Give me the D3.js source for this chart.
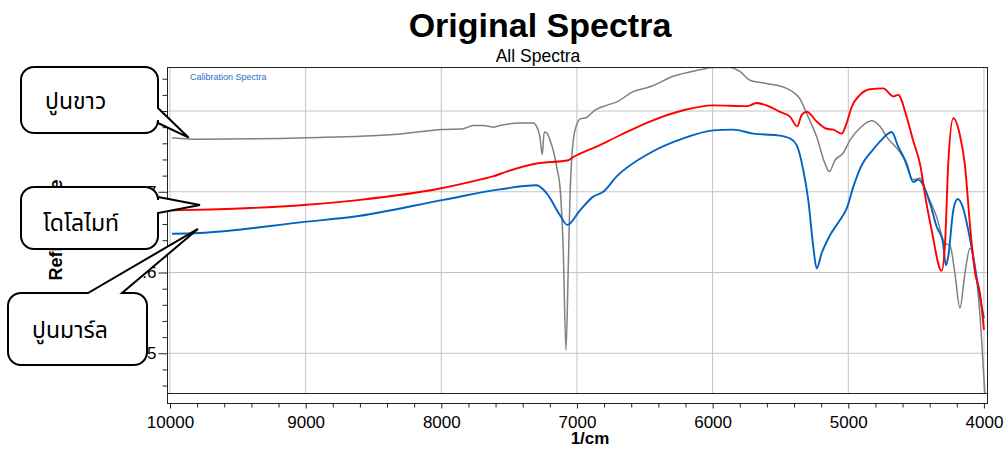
<!DOCTYPE html>
<html>
<head>
<meta charset="utf-8">
<script src="https://cdn.jsdelivr.net/npm/d3@7"></script>
<style>
  html, body { margin: 0; padding: 0; background: #ffffff; }
  svg { display: block; font-family: "Liberation Sans", Arial, sans-serif; }
</style>
</head>
<body>
<script>
// ---------------- DATA ----------------
const seriesNames = ["ปูนขาว", "โดโลไมท์", "ปูนมาร์ล"];
const seriesColors = ["#808080", "#ff0000", "#0062c4"];

// ปูนขาว (gray)
const limeWn = [9985, 9779, 8992, 8356, 7988, 7840, 7767, 7693, 7619, 7568, 7420, 7324, 7295, 7273, 7256, 7241, 7223, 7199, 7170, 7145, 7125, 7101, 7081, 7064, 7052, 7027, 7002, 6978, 6929, 6867, 6781, 6698, 6587, 6462, 6290, 6093, 5997, 5872, 5799, 5725, 5602, 5454, 5381, 5356, 5307, 5233, 5172, 5140, 5098, 5037, 4987, 4914, 4828, 4767, 4717, 4595, 4521, 4472, 4422, 4349, 4287, 4251, 4214, 4177, 4140, 4103, 4066, 4030, 4005, 3993];
const limeRefl = [0.767, 0.765, 0.767, 0.771, 0.777, 0.778, 0.782, 0.782, 0.780, 0.782, 0.785, 0.785, 0.780, 0.768, 0.746, 0.774, 0.773, 0.764, 0.748, 0.727, 0.706, 0.628, 0.504, 0.607, 0.690, 0.764, 0.783, 0.790, 0.792, 0.801, 0.807, 0.812, 0.824, 0.830, 0.843, 0.851, 0.854, 0.854, 0.849, 0.838, 0.834, 0.828, 0.820, 0.815, 0.797, 0.768, 0.735, 0.725, 0.739, 0.748, 0.764, 0.779, 0.788, 0.781, 0.768, 0.743, 0.715, 0.717, 0.698, 0.669, 0.636, 0.634, 0.599, 0.556, 0.599, 0.630, 0.607, 0.549, 0.483, 0.450];

// โดโลไมท์ (red)
const dolomiteWn = [9985, 9705, 8992, 8600, 8010, 7715, 7619, 7518, 7297, 7064, 7027, 6855, 6683, 6462, 6216, 5995, 5749, 5675, 5602, 5504, 5430, 5376, 5344, 5307, 5233, 5159, 5111, 5049, 5012, 4975, 4914, 4840, 4742, 4668, 4632, 4570, 4521, 4472, 4422, 4386, 4312, 4287, 4263, 4226, 4177, 4140, 4103, 4066, 4030, 4000];
const dolomiteRefl = [0.677, 0.678, 0.684, 0.690, 0.704, 0.715, 0.719, 0.725, 0.735, 0.739, 0.743, 0.756, 0.770, 0.787, 0.801, 0.807, 0.806, 0.810, 0.807, 0.799, 0.793, 0.781, 0.795, 0.799, 0.787, 0.778, 0.777, 0.772, 0.785, 0.805, 0.820, 0.827, 0.828, 0.818, 0.820, 0.793, 0.763, 0.735, 0.684, 0.653, 0.602, 0.635, 0.735, 0.791, 0.770, 0.733, 0.659, 0.600, 0.575, 0.529];

// ปูนมาร์ล (blue)
const marlWn = [9985, 9779, 8992, 8649, 7985, 7568, 7297, 7223, 7125, 7071, 6978, 6880, 6806, 6707, 6462, 6216, 5995, 5848, 5700, 5528, 5430, 5381, 5332, 5295, 5258, 5233, 5196, 5135, 5061, 5012, 4963, 4901, 4828, 4767, 4680, 4632, 4570, 4521, 4484, 4447, 4398, 4349, 4305, 4280, 4263, 4226, 4194, 4152, 4116, 4079, 4042, 4000];
const marlRefl = [0.648, 0.649, 0.663, 0.669, 0.690, 0.703, 0.708, 0.698, 0.671, 0.659, 0.677, 0.694, 0.700, 0.719, 0.748, 0.766, 0.776, 0.777, 0.772, 0.770, 0.766, 0.758, 0.727, 0.690, 0.632, 0.605, 0.624, 0.646, 0.665, 0.679, 0.706, 0.733, 0.750, 0.762, 0.774, 0.756, 0.735, 0.712, 0.715, 0.708, 0.686, 0.657, 0.640, 0.609, 0.620, 0.677, 0.691, 0.679, 0.653, 0.620, 0.582, 0.543];

const xTicks = [10000, 9000, 8000, 7000, 6000, 5000, 4000];
const yTicks = [0.5, 0.6, 0.7, 0.8];
const xDomain = [10022, 3970];
const yDomain = [0.4508, 0.8545];

// callout anchors (data coords on each curve)
const calloutTipWn = [9862, 9779, 9794];
const calloutTipRefl = [0.767, 0.6835, 0.654];

// ---------------- LAYOUT ----------------
const W = 1008, H = 453;
const L = 167, R = 988, T = 67, B = 393;

const svg = d3.select("body").append("svg").attr("width", W).attr("height", H);

const x = d3.scaleLinear().domain(xDomain).range([L, R]);
const y = d3.scaleLinear().domain(yDomain).range([B, T]);

// Titles
svg.append("text").attr("x", 540).attr("y", 37).attr("text-anchor", "middle")
  .attr("font-size", 34).attr("font-weight", "bold").attr("fill", "#000").text("Original Spectra");
svg.append("text").attr("x", 538).attr("y", 62).attr("text-anchor", "middle")
  .attr("font-size", 17.5).attr("fill", "#000").text("All Spectra");

// Grid
const grid = svg.append("g");
grid.selectAll("line.v").data(xTicks).enter().append("line")
  .attr("x1", d => x(d)).attr("x2", d => x(d)).attr("y1", T).attr("y2", B)
  .attr("stroke", "#c4c4c4").attr("stroke-width", 1);
grid.selectAll("line.h").data(yTicks).enter().append("line")
  .attr("x1", L).attr("x2", R).attr("y1", d => y(d)).attr("y2", d => y(d))
  .attr("stroke", "#c4c4c4").attr("stroke-width", 1);

// Calibration label
svg.append("text").attr("x", 190).attr("y", 80).attr("font-size", 9)
  .attr("fill", "#2a6fc4").text("Calibration Spectra");

// Lines
svg.append("clipPath").attr("id", "plotclip").append("rect")
  .attr("x", L).attr("y", T).attr("width", R - L).attr("height", B - T);
const lineGen = d3.line().x(d => x(d[0])).y(d => y(d[1])).curve(d3.curveMonotoneX);
const series = [
  { wn: limeWn, r: limeRefl, color: seriesColors[0], w: 1.5 },
  { wn: marlWn, r: marlRefl, color: seriesColors[2], w: 1.9 },
  { wn: dolomiteWn, r: dolomiteRefl, color: seriesColors[1], w: 1.9 }
];
const lines = svg.append("g").attr("clip-path", "url(#plotclip)");
series.forEach(s => {
  const pts = s.wn.map((w, i) => [w, s.r[i]]);
  lines.append("path").datum(pts).attr("d", lineGen)
    .attr("fill", "none").attr("stroke", s.color).attr("stroke-width", s.w)
    .attr("stroke-linejoin", "round");
});

// Frame
svg.append("rect").attr("x", L + 0.5).attr("y", T + 0.5).attr("width", R - L - 1).attr("height", B - T)
  .attr("fill", "none").attr("stroke", "#222").attr("stroke-width", 1);
// x-axis strip
svg.append("rect").attr("x", L + 0.5).attr("y", B + 0.5).attr("width", R - L - 1).attr("height", 10)
  .attr("fill", "none").attr("stroke", "#222").attr("stroke-width", 1);

// X axis
const xMinor = d3.range(10000, 3999, -200).filter(v => v % 1000 !== 0);
const xAx = svg.append("g").attr("transform", `translate(0,${B + 10.5})`)
  .call(d3.axisBottom(x).tickValues(xTicks).tickFormat(d3.format("d")).tickSize(5).tickPadding(7));
xAx.select(".domain").remove();
xAx.selectAll("text").attr("font-size", 17).attr("font-family", "Liberation Sans, Arial, sans-serif").attr("fill", "#000");
xAx.selectAll("line").attr("stroke", "#222");
const xAxMinor = svg.append("g").attr("transform", `translate(0,${B + 10.5})`)
  .call(d3.axisBottom(x).tickValues(xMinor).tickFormat("").tickSize(4));
xAxMinor.select(".domain").remove();
xAxMinor.selectAll("line").attr("stroke", "#222");

svg.append("text").attr("x", 590).attr("y", 444).attr("text-anchor", "middle")
  .attr("font-size", 17).attr("font-weight", "bold").text("1/cm");

// Y axis
const yFmt = d => d3.format(".1f")(d).replace(/^0/, "");
const yMinor = d3.range(0.46, 0.8501, 0.02).filter(v => Math.abs(v * 10 - Math.round(v * 10)) > 1e-6);
const yAx = svg.append("g").attr("transform", `translate(${L + 0.5},0)`)
  .call(d3.axisLeft(y).tickValues(yTicks).tickFormat(yFmt).tickSize(9).tickPadding(2));
yAx.select(".domain").remove();
yAx.selectAll("text").attr("font-size", 17).attr("font-family", "Liberation Sans, Arial, sans-serif").attr("fill", "#000");
yAx.selectAll("line").attr("stroke", "#222");
const yAxMinor = svg.append("g").attr("transform", `translate(${L + 0.5},0)`)
  .call(d3.axisLeft(y).tickValues(yMinor).tickFormat("").tickSize(5));
yAxMinor.select(".domain").remove();
yAxMinor.selectAll("line").attr("stroke", "#222");
// extend left frame down through the strip
svg.append("line").attr("x1", L + 0.5).attr("x2", L + 0.5).attr("y1", T).attr("y2", B + 10)
  .attr("stroke", "#222");

svg.append("text").attr("transform", "translate(62,230) rotate(-90)").attr("text-anchor", "middle")
  .attr("font-size", 18).attr("font-weight", "bold").text("Reflectance");

// ---------------- CALLOUTS ----------------
function rightCallout(x0, y0, x1, y1, r, p1, p2, tx, ty) {
  return `M${x0 + r},${y0} H${x1 - r} A${r},${r} 0 0 1 ${x1},${y0 + r} V${p1} L${tx},${ty} L${x1},${p2} V${y1 - r} A${r},${r} 0 0 1 ${x1 - r},${y1} H${x0 + r} A${r},${r} 0 0 1 ${x0},${y1 - r} V${y0 + r} A${r},${r} 0 0 1 ${x0 + r},${y0} Z`;
}
function topCallout(x0, y0, x1, y1, r, p1, p2, tx, ty) {
  return `M${x0 + r},${y0} H${p1} L${tx},${ty} L${p2},${y0} H${x1 - r} A${r},${r} 0 0 1 ${x1},${y0 + r} V${y1 - r} A${r},${r} 0 0 1 ${x1 - r},${y1} H${x0 + r} A${r},${r} 0 0 1 ${x0},${y1 - r} V${y0 + r} A${r},${r} 0 0 1 ${x0 + r},${y0} Z`;
}
const callouts = svg.append("g");
const thaiFont = "'Noto Sans Thai', 'Noto Sans Thai UI', Tahoma, 'Leelawadee UI', 'DejaVu Sans', sans-serif";
const tips = calloutTipWn.map((w, i) => [x(w), y(calloutTipRefl[i])]);
const thaiSize = 23;

callouts.append("path").attr("d", rightCallout(21, 67, 158, 133, 13, 108, 123, tips[0][0], tips[0][1]))
  .attr("fill", "#fff").attr("stroke", "#000").attr("stroke-width", 2);
callouts.append("text").attr("x", 45).attr("y", 109).attr("font-size", thaiSize).attr("font-family", thaiFont).text(seriesNames[0]);

callouts.append("path").attr("d", rightCallout(21, 187, 158, 249, 13, 197, 213, tips[1][0], tips[1][1]))
  .attr("fill", "#fff").attr("stroke", "#000").attr("stroke-width", 2);
callouts.append("text").attr("x", 43).attr("y", 231).attr("font-size", thaiSize).attr("font-family", thaiFont).text(seriesNames[1]);

callouts.append("path").attr("d", topCallout(8, 293, 147, 365, 13, 88, 122, tips[2][0], tips[2][1]))
  .attr("fill", "#fff").attr("stroke", "#000").attr("stroke-width", 2);
callouts.append("text").attr("x", 32).attr("y", 338).attr("font-size", thaiSize).attr("font-family", thaiFont).text(seriesNames[2]);
</script>
</body>
</html>
